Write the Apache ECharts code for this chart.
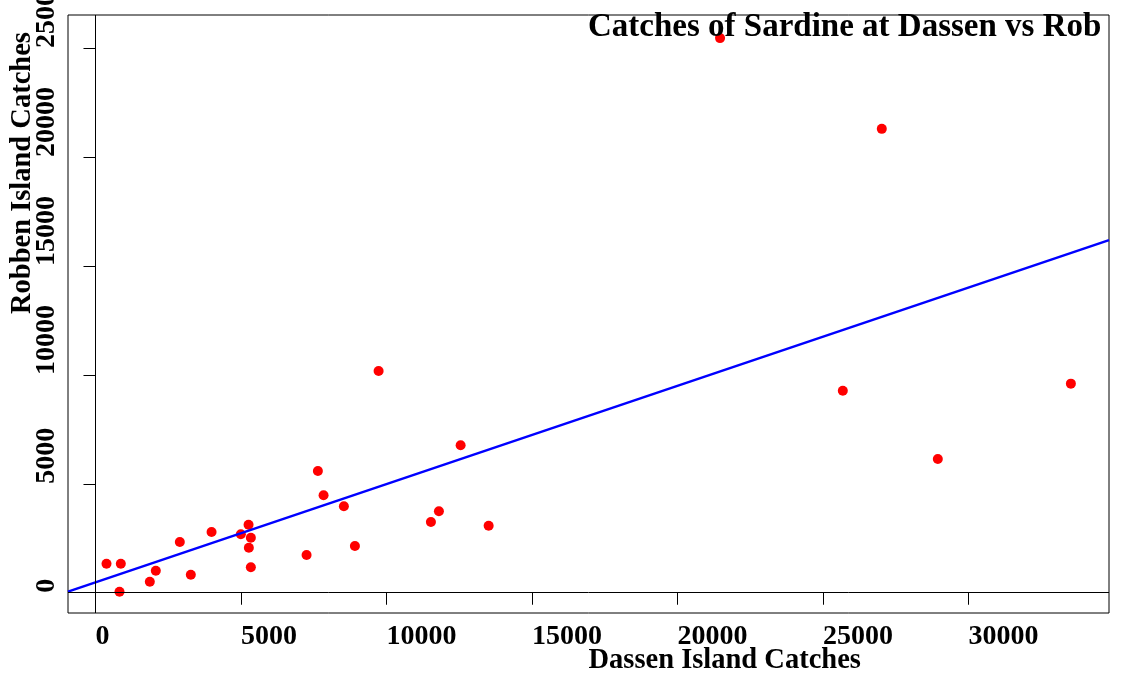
<!DOCTYPE html>
<html>
<head>
<meta charset="utf-8">
<script src="https://cdn.jsdelivr.net/npm/echarts@6/dist/echarts.min.js"></script>
<style>
  html, body { margin: 0; padding: 0; background: #fff; }
  #chart { width: 1124px; height: 675px; }
</style>
</head>
<body>
<div id="chart"></div>
<script>
// Dassen Island catches (x) and Robben Island catches (y)
const dassen = [378, 870, 825, 1867, 2073, 2898, 3276, 3988, 4995, 5260, 5339, 5270, 5339, 7254,
  7643, 7838, 8536, 8915, 9729, 11527, 11802, 12548, 13511, 21463, 27022, 25682, 28947, 33520];
const robben = [1332, 1332, 46, 505, 1010, 2328, 827, 2787, 2682, 3123, 2526, 2067, 1166, 1731,
  5589, 4473, 3968, 2145, 10181, 3247, 3738, 6769, 3077, 25459, 21294, 9276, 6140, 9598];
const xTicks = [0, 5000, 10000, 15000, 20000, 25000, 30000];
const yTicks = [0, 5000, 10000, 15000, 20000, 25000];
const xRange = [-945, 34830];
const yRange = [-930, 26520];
// fitted regression line: robben = intercept + slope * dassen
const intercept = 480;
const slope = 0.451;

const points = dassen.map((x, i) => [x, robben[i]]);
const fitLine = xRange.map(x => [x, intercept + slope * x]);

const FONT = 'Liberation Serif';
const chart = echarts.init(document.getElementById('chart'), null, { renderer: 'canvas' });
chart.setOption({
  animation: false,
  backgroundColor: '#fff',
  title: {
    text: 'Catches of Sardine at Dassen vs Robben Island',
    left: 588,
    top: 11,
    padding: 0,
    textStyle: {
      fontFamily: FONT, fontWeight: 'bold', fontSize: 33, color: '#000',
      width: 523, overflow: 'truncate', ellipsis: ''
    }
  },
  grid: {
    left: 68, top: 15, right: 15, bottom: 62,
    containLabel: false,
    outerBoundsMode: 'none',
    show: true, borderColor: '#000', borderWidth: 1, backgroundColor: 'transparent'
  },
  xAxis: {
    type: 'value',
    min: xRange[0], max: xRange[1],
    name: 'Dassen Island Catches',
    nameLocation: 'middle',
    nameGap: 33,
    nameMoveOverlap: false,
    nameTextStyle: { fontFamily: FONT, fontWeight: 'bold', fontSize: 28.5, color: '#000', align: 'left', verticalAlign: 'top' },
    axisLine: { show: false },
    axisTick: { show: true, length: 12, inside: false, customValues: xTicks, lineStyle: { color: '#000', width: 1 } },
    axisLabel: {
      customValues: xTicks, margin: 10, align: 'left', verticalAlign: 'top',
      formatter: v => String(v),
      hideOverlap: false,
      fontFamily: FONT, fontWeight: 'bold', fontSize: 28, color: '#000'
    },
    splitLine: { show: false }
  },
  yAxis: {
    type: 'value',
    min: yRange[0], max: yRange[1],
    name: 'Robben Island Catches',
    nameLocation: 'middle',
    nameRotate: 90,
    nameGap: 45,
    nameMoveOverlap: false,
    nameTextStyle: { fontFamily: FONT, fontWeight: 'bold', fontSize: 28.5, color: '#000', align: 'left', verticalAlign: 'middle' },
    axisLine: { show: false },
    axisTick: { show: true, length: 12, inside: false, customValues: yTicks, lineStyle: { color: '#000', width: 1 } },
    axisLabel: {
      customValues: yTicks, margin: 21, rotate: 90, align: 'left', verticalAlign: 'middle',
      formatter: v => String(v),
      hideOverlap: false,
      fontFamily: FONT, fontWeight: 'bold', fontSize: 28, color: '#000'
    },
    splitLine: { show: false }
  },
  series: [
    {
      type: 'scatter',
      data: points,
      symbol: 'circle',
      symbolSize: 10,
      itemStyle: { color: '#ff0000', opacity: 1 },
      z: 3,
      markLine: {
        silent: true,
        symbol: 'none',
        label: { show: false },
        lineStyle: { color: '#000', width: 1, type: 'solid' },
        data: [{ xAxis: 0 }, { yAxis: 0 }]
      }
    },
    {
      type: 'line',
      data: fitLine,
      showSymbol: false,
      symbol: 'none',
      lineStyle: { color: '#0000ff', width: 2.5 },
      z: 4
    }
  ]
});
</script>
</body>
</html>
